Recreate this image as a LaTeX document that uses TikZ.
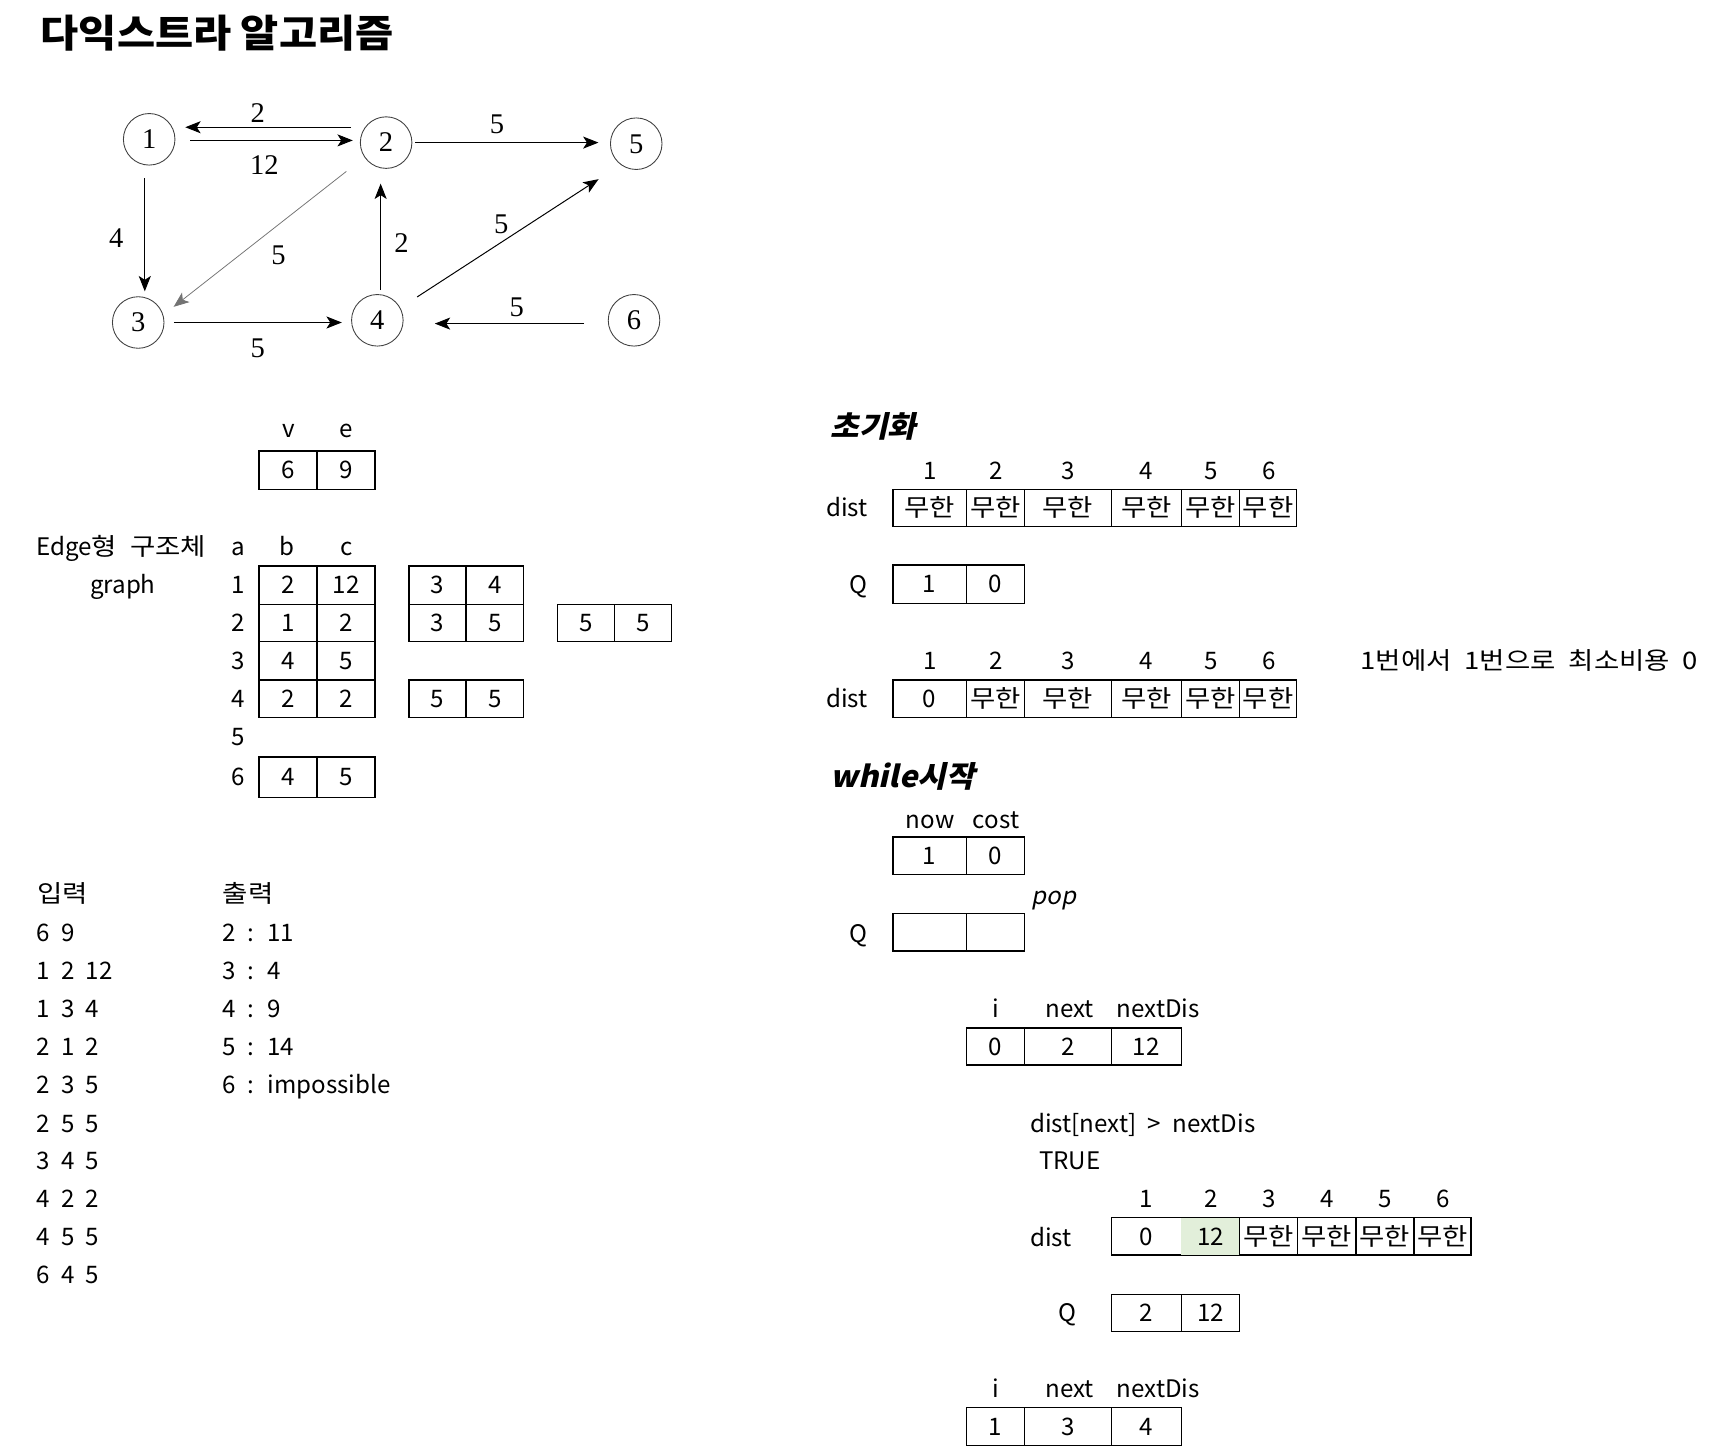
\documentclass[tikz,border=0pt]{standalone}
\usepackage{fontspec}
\setmainfont{Noto Sans CJK KR}[AutoFakeSlant=0.2,WordSpace=2.1]
\newfontfamily\krw{Noto Sans CJK KR}[FakeStretch=1.14,WordSpace=2.1]
\newfontfamily\bifont{Noto Sans CJK KR}[UprightFeatures={FakeSlant=0.22,FakeStretch=1.05},BoldFeatures={FakeSlant=0.22,FakeStretch=1.05}]
\newfontfamily\ttlfont{Noto Sans CJK KR}[FakeStretch=1.08]
\newfontfamily\gfont{Liberation Serif}
\usetikzlibrary{arrows.meta}
\definecolor{hl}{HTML}{E2EFDA}
\newcommand\mycell[6]{\node[cell,minimum width={#4pt-#2pt},minimum height={#5pt-#3pt}] (#1) at ({(#2+#4)/2},{(#3+#5)/2}) {#6};}
\newcommand\muhan{{\krw 무한}}
\begin{document}
\begin{tikzpicture}[x=1pt,y=-1pt,
  txt/.style={inner sep=0pt,text height=16pt,text depth=0pt,font=\fontsize{22}{26}\selectfont},
  ttl/.style={inner sep=0pt,text height=25pt,text depth=0pt,anchor=west,font=\ttlfont\fontsize{35}{40}\selectfont\bfseries},
  sec/.style={inner sep=0pt,text height=20pt,text depth=0pt,anchor=west,font=\bifont\fontsize{27}{30}\selectfont\bfseries},
  cell/.style={draw,line width=1.3pt,inner sep=0pt,text height=16pt,text depth=0pt,font=\fontsize{22}{26}\selectfont},
  vtx/.style={circle,draw=black!75,line width=0.8pt,minimum size=47pt,inner sep=0pt,text height=17pt,text depth=0pt,font=\gfont\fontsize{26}{29}\selectfont},
  gl/.style={inner sep=0pt,text height=17pt,text depth=0pt,font=\gfont\fontsize{26}{29}\selectfont},
  arr/.style={line width=0.9pt,-{Stealth[length=14pt,width=11pt,inset=3.5pt]}}
]
\useasboundingbox (0,0) rectangle (1568,1324);

% title
\node[ttl] (title) at (37,31) {다익스트라 알고리즘};

% graph
\node[vtx] (n1) at (136,127) {1};
\node[vtx] (n2) at (352,130) {2};
\node[vtx] (n5) at (580,131) {5};
\node[vtx] (n3) at (126,294) {3};
\node[vtx] (n4) at (344,292) {4};
\node[vtx] (n6) at (578,292) {6};

\draw[arr] ([shift={(-8,-14)}]n2.west) -- ([shift={(9,-11)}]n1.east);
\draw[arr] ([shift={(13.5,1)}]n1.east) -- ([shift={(-6.5,-2)}]n2.west);
\draw[arr] ([shift={(2.5,0)}]n2.east) -- ([shift={(-10.5,-1)}]n5.west);
\draw[arr] ([shift={(-4,11.5)}]n1.south) -- ([shift={(6,-4.5)}]n3.north);
\draw[arr,draw=black!55,line width=0.7pt] ([shift={(-19.4,9.4)}]n2.south west) -- ([shift={(15.4,2.6)}]n3.north east);
\draw[arr] ([shift={(3,-3.5)}]n4.north) -- ([shift={(-5,13.5)}]n2.south);
\draw[arr] ([shift={(19.4,-4.4)}]n4.north east) -- ([shift={(-17.4,15.4)}]n5.south west);
\draw[arr] ([shift={(8.5,0)}]n3.east) -- ([shift={(-8.5,2)}]n4.west);
\draw[arr] ([shift={(-21.5,3)}]n6.west) -- ([shift={(28.5,3)}]n4.east);

\node[gl] (l21) at (235,103) {2};
\node[gl] (l12) at (241,151) {12};
\node[gl] (l25) at (453,113) {5};
\node[gl] (l13) at (106,217) {4};
\node[gl] (l23) at (254,233) {5};
\node[gl] (l42) at (366,222) {2};
\node[gl] (l45) at (457,204) {5};
\node[gl] (l34) at (235,317) {5};
\node[gl] (l64) at (471,280) {5};

% v e
\node[txt] (hv) at (263,391) {v};
\node[txt] (he) at (316,391) {e};
\mycell{cv}{236}{411}{289}{446}{6}
\mycell{ce}{289}{411}{342}{446}{9}

% graph table
\node[txt,anchor=west] (edgelbl) at (33,498) {Edge{\krw 형 구조체}};
\node[txt] (graphlbl) at (112,533) {graph};
\node[txt] (ha) at (217,498) {a};
\node[txt] (hb) at (262,498) {b};
\node[txt] (hc) at (316,498) {c};
\node[txt] (r1) at (217,533) {1};
\node[txt] (r2) at (217,568) {2};
\node[txt] (r3) at (217,602) {3};
\node[txt] (r4) at (217,637) {4};
\node[txt] (r5) at (217,672) {5};
\node[txt] (r6) at (217,708) {6};
\mycell{g1b}{236}{516}{289}{551}{2}
\mycell{g1c}{289}{516}{342}{551}{12}
\mycell{g2b}{236}{551}{289}{585}{1}
\mycell{g2c}{289}{551}{342}{585}{2}
\mycell{g3b}{236}{585}{289}{620}{4}
\mycell{g3c}{289}{585}{342}{620}{5}
\mycell{g4b}{236}{620}{289}{654}{2}
\mycell{g4c}{289}{620}{342}{654}{2}
\mycell{g6b}{236}{690}{289}{727}{4}
\mycell{g6c}{289}{690}{342}{727}{5}
\mycell{h1b}{373}{516}{425}{551}{3}
\mycell{h1c}{425}{516}{477}{551}{4}
\mycell{h2b}{373}{551}{425}{585}{3}
\mycell{h2c}{425}{551}{477}{585}{5}
\mycell{h4b}{373}{620}{425}{654}{5}
\mycell{h4c}{425}{620}{477}{654}{5}
\mycell{k2b}{508}{551}{560}{585}{5}
\mycell{k2c}{560}{551}{612}{585}{5}

% input / output
\node[txt,anchor=west] (inlbl) at (34,815) {\krw 입력};
\node[txt,anchor=west] (in1) at (33,850) {6 9};
\node[txt,anchor=west] (in2) at (33,885) {1 2 12};
\node[txt,anchor=west] (in3) at (33,920) {1 3 4};
\node[txt,anchor=west] (in4) at (33,954) {2 1 2};
\node[txt,anchor=west] (in5) at (33,989) {2 3 5};
\node[txt,anchor=west] (in6) at (33,1024) {2 5 5};
\node[txt,anchor=west] (in7) at (33,1058) {3 4 5};
\node[txt,anchor=west] (in8) at (33,1093) {4 2 2};
\node[txt,anchor=west] (in9) at (33,1127) {4 5 5};
\node[txt,anchor=west] (in10) at (33,1162) {6 4 5};
\node[txt,anchor=west] (outlbl) at (203,815) {\krw 출력};
\node[txt,anchor=west] (out1) at (203,850) {2 : 11};
\node[txt,anchor=west] (out2) at (203,885) {3 : 4};
\node[txt,anchor=west] (out3) at (203,920) {4 : 9};
\node[txt,anchor=west] (out4) at (203,954) {5 : 14};
\node[txt,anchor=west] (out5) at (203,989) {6 : impossible};

% init
\node[sec] (init) at (757,389) {초기화};
\foreach \n/\x in {1/848,2/908,3/974,4/1045,5/1104,6/1157}{\node[txt] (ha\n) at (\x,429) {\n};}
\node[txt,anchor=west] (dlbl1) at (753,463) {dist};
\mycell{d11}{814}{446}{881}{480}{\muhan}
\mycell{d12}{881}{446}{934}{480}{\muhan}
\mycell{d13}{934}{446}{1013}{480}{\muhan}
\mycell{d14}{1013}{446}{1077}{480}{\muhan}
\mycell{d15}{1077}{446}{1130}{480}{\muhan}
\mycell{d16}{1130}{446}{1182}{480}{\muhan}
\node[txt] (qlbl1) at (783,533) {Q};
\mycell{q11}{814}{515}{881}{550}{1}
\mycell{q12}{881}{515}{934}{550}{0}
\foreach \n/\x in {1/848,2/908,3/974,4/1045,5/1104,6/1157}{\node[txt] (hb\n) at (\x,602) {\n};}
\node[txt,anchor=west] (note) at (1240,602) {\krw 1번에서 1번으로 최소비용 0};
\node[txt,anchor=west] (dlbl2) at (753,637) {dist};
\mycell{d21}{814}{620}{881}{654}{0}
\mycell{d22}{881}{620}{934}{654}{\muhan}
\mycell{d23}{934}{620}{1013}{654}{\muhan}
\mycell{d24}{1013}{620}{1077}{654}{\muhan}
\mycell{d25}{1077}{620}{1130}{654}{\muhan}
\mycell{d26}{1130}{620}{1182}{654}{\muhan}

% while
\node[sec] (wh) at (757,708) {while시작};
\node[txt] (hnow) at (848,747) {now};
\node[txt] (hcost) at (908,747) {cost};
\mycell{nc1}{814}{763}{881}{797}{1}
\mycell{nc2}{881}{763}{934}{797}{0}
\node[txt,font=\fontsize{22}{26}\selectfont\itshape] (pop) at (961,817) {pop};
\node[txt] (qlbl2) at (783,851) {Q};
\mycell{q21}{814}{833}{881}{867}{}
\mycell{q22}{881}{833}{934}{867}{}
\node[txt] (hi1) at (908,920) {i};
\node[txt] (hn1) at (975,920) {next};
\node[txt] (hd1) at (1056,920) {nextDis};
\mycell{i1}{881}{937}{934}{971}{0}
\mycell{i2}{934}{937}{1013}{971}{2}
\mycell{i3}{1013}{937}{1077}{971}{12}
\node[txt,anchor=west] (cond) at (939,1024) {dist[next] > nextDis};
\node[txt,anchor=west] (tru) at (947,1058) {TRUE};
\foreach \n/\x in {1/1045,2/1104,3/1157,4/1210,5/1263,6/1316}{\node[txt] (hc\n) at (\x,1093) {\n};}
\node[txt] (dlbl3) at (958,1128) {dist};
\mycell{d31}{1013}{1110}{1077}{1144}{0}
\mycell{d32}{1077}{1110}{1130}{1144}{12}
\fill[hl] ([shift={(0.65,0.65)}]d32.north west) rectangle ([shift={(-0.65,-0.65)}]d32.south east);
\node[txt] at (d32) {12};
\mycell{d33}{1130}{1110}{1183}{1144}{\muhan}
\mycell{d34}{1183}{1110}{1236}{1144}{\muhan}
\mycell{d35}{1236}{1110}{1289}{1144}{\muhan}
\mycell{d36}{1289}{1110}{1341}{1144}{\muhan}
\node[txt] (qlbl3) at (973,1197) {Q};
\mycell{q31}{1013}{1180}{1077}{1214}{2}
\mycell{q32}{1077}{1180}{1130}{1214}{12}
\node[txt] (hi2) at (908,1266) {i};
\node[txt] (hn2) at (975,1266) {next};
\node[txt] (hd2) at (1056,1266) {nextDis};
\mycell{j1}{881}{1283}{934}{1318}{1}
\mycell{j2}{934}{1283}{1013}{1318}{3}
\mycell{j3}{1013}{1283}{1077}{1318}{4}
\end{tikzpicture}
\end{document}
